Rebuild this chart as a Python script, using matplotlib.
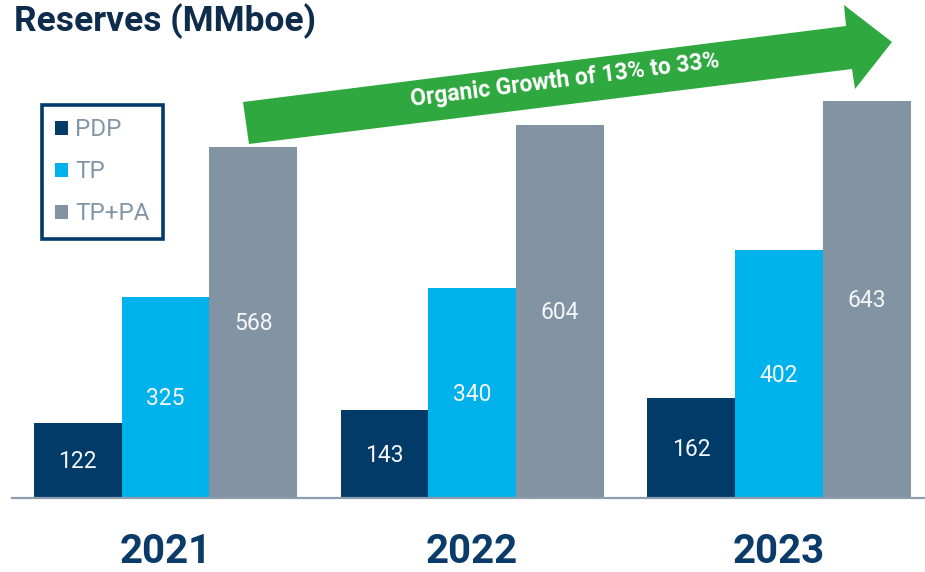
import matplotlib
matplotlib.use('Agg')
import matplotlib.pyplot as plt
from matplotlib.patches import Patch, Polygon
import numpy as np

plt.rcParams['font.family'] = ['Roboto', 'DejaVu Sans']

# the data
years = ['2021', '2022', '2023']
series = ['PDP', 'TP', 'TP+PA']
pdp = [122, 143, 162]
tp = [325, 340, 402]
tp_pa = [568, 604, 643]
colors = ['#023B68', '#00B2EC', '#8294A3']
arrow_label = 'Organic Growth of 13% to 33%'

W, H = 925, 572
fig = plt.figure(figsize=(W / 100, H / 100), dpi=100)
fig.patch.set_facecolor('white')
# axes placed in pixel terms of the reference
ax = fig.add_axes([12 / W, (H - 498) / H, 913 / W, 498 / H])

x = np.arange(len(years))
w = 0.286
for k, (vals, col) in enumerate(zip([pdp, tp, tp_pa], colors)):
    bars = ax.bar(x + (k - 1) * w, vals, width=w, color=col, label=series[k],
                  linewidth=0)
    for b, v in zip(bars, vals):
        ax.text(b.get_x() + b.get_width() / 2, v / 2 - 2, str(v), ha='center',
                va='center', color='#F4F6F8', fontsize=16.5)

ax.set_xlim(-0.5, 2.476)
ax.set_ylim(0, 806.5)
for s in ['top', 'right', 'left']:
    ax.spines[s].set_visible(False)
ax.spines['bottom'].set_color('#8C9DAD')
ax.spines['bottom'].set_linewidth(1.6)
ax.set_yticks([])
ax.set_xticks(x, years)
ax.tick_params(axis='x', length=0, pad=25)
for lbl in ax.get_xticklabels():
    lbl.set_fontsize(29)
    lbl.set_fontweight('bold')
    lbl.set_color('#0B3B69')

# title
fig.text(14 / W, 1 - 3 / H, 'Reserves (MMboe)', ha='left', va='top',
         fontsize=25.5, fontweight='bold', color='#0E2C4C')

# legend
handles = [Patch(facecolor=c, edgecolor='none') for c in colors]
leg = ax.legend(handles, series, loc='upper left',
                bbox_to_anchor=(42 / W, 1 - 105 / H),
                bbox_transform=fig.transFigure, fontsize=17.5,
                frameon=True, fancybox=False, borderpad=0.55,
                labelspacing=0.78, handlelength=0.52, handleheight=0.52,
                handletextpad=0.3, borderaxespad=0)
for t in leg.get_texts():
    t.set_color('#8496A6')
fr = leg.get_frame()
fr.set_edgecolor('#023B68')
fr.set_linewidth(2.6)
fr.set_alpha(1)

# green growth arrow (pixel outline of the reference)
pts = [(243, 102), (846, 26), (844, 5), (892, 42), (855, 89), (852, 69),
       (249, 144)]
pts = [(px / W, 1 - py / H) for px, py in pts]
fig.patches.append(Polygon(pts, closed=True, facecolor='#2EA83F',
                           edgecolor='none', transform=fig.transFigure))
fig.text(565 / W, 1 - 80 / H, arrow_label, ha='center', va='center',
         rotation=7.2, rotation_mode='anchor', color='white', fontsize=16.5,
         fontweight='bold')

fig.savefig('out.png', dpi=100, facecolor='white')
